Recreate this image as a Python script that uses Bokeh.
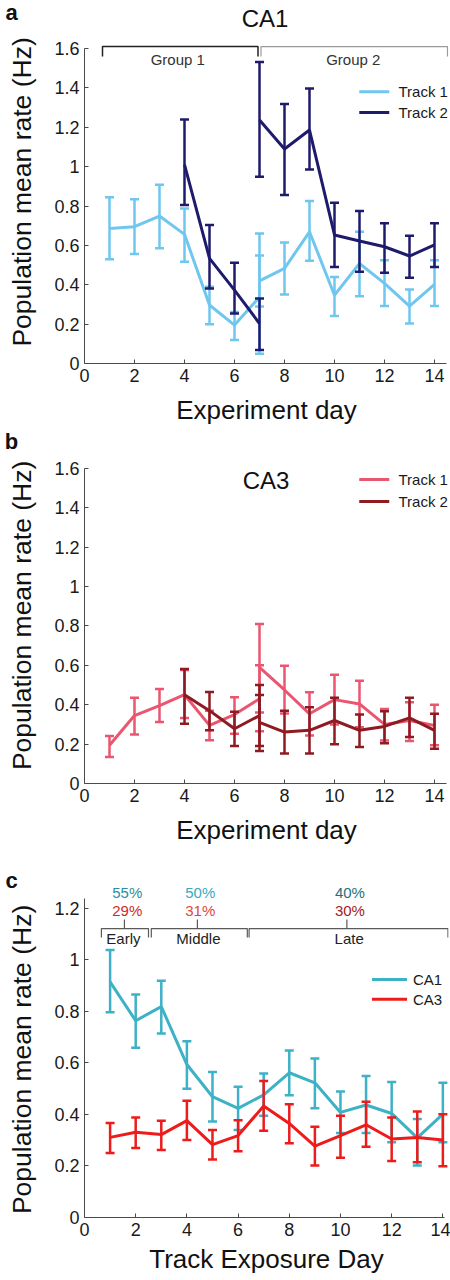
import math
from bokeh.plotting import figure
from bokeh.layouts import column, row
from bokeh.models import FixedTicker
from bokeh.core.properties import value
from bokeh.embed import file_html
from bokeh.resources import INLINE

FONT = "Liberation Sans"

# ---------------- data ----------------
x_ticks = [0, 2, 4, 6, 8, 10, 12, 14]
y_ticks_ab = [0, 0.2, 0.4, 0.6, 0.8, 1.0, 1.2, 1.4, 1.6]
y_labels_ab = ["0", "0.2", "0.4", "0.6", "0.8", "1", "1.2", "1.4", "1.6"]
y_ticks_c = [0, 0.2, 0.4, 0.6, 0.8, 1.0, 1.2]
y_labels_c = ["0", "0.2", "0.4", "0.6", "0.8", "1", "1.2"]

# Panel a (CA1)
a_t1_g1_day = [1, 2, 3, 4, 5, 6, 7]
a_t1_g1_mean = [0.686, 0.695, 0.749, 0.656, 0.297, 0.195, 0.337]
a_t1_g1_lo = [0.529, 0.556, 0.585, 0.517, 0.200, 0.120, 0.050]
a_t1_g1_hi = [0.844, 0.834, 0.908, 0.788, 0.390, 0.262, 0.660]
a_t1_g2_day = [7, 8, 9, 10, 11, 12, 13, 14]
a_t1_g2_mean = [0.420, 0.483, 0.669, 0.347, 0.508, 0.407, 0.292, 0.402]
a_t1_g2_lo = [0.290, 0.351, 0.522, 0.241, 0.342, 0.292, 0.203, 0.292]
a_t1_g2_hi = [0.548, 0.615, 0.825, 0.440, 0.669, 0.525, 0.376, 0.525]
a_t2_g1_day = [4, 5, 6, 7]
a_t2_g1_mean = [1.010, 0.534, 0.373, 0.203]
a_t2_g1_lo = [0.805, 0.381, 0.254, 0.068]
a_t2_g1_hi = [1.240, 0.703, 0.512, 0.330]
a_t2_g2_day = [7, 8, 9, 10, 11, 12, 13, 14]
a_t2_g2_mean = [1.237, 1.090, 1.186, 0.653, 0.622, 0.593, 0.546, 0.602]
a_t2_g2_lo = [0.949, 0.856, 0.986, 0.490, 0.466, 0.461, 0.436, 0.490]
a_t2_g2_hi = [1.532, 1.318, 1.397, 0.817, 0.775, 0.712, 0.649, 0.712]

# Panel b (CA3)
b_t1_g1_day = [1, 2, 3, 4, 5, 6, 7]
b_t1_g1_mean = [0.194, 0.345, 0.396, 0.451, 0.295, 0.350, 0.430]
b_t1_g1_lo = [0.135, 0.249, 0.312, 0.333, 0.220, 0.253, 0.265]
b_t1_g1_hi = [0.241, 0.435, 0.480, 0.576, 0.370, 0.438, 0.600]
b_t1_g2_day = [7, 8, 9, 10, 11, 12, 13, 14]
b_t1_g2_mean = [0.590, 0.475, 0.354, 0.426, 0.404, 0.300, 0.320, 0.295]
b_t1_g2_lo = [0.360, 0.355, 0.244, 0.300, 0.286, 0.219, 0.216, 0.194]
b_t1_g2_hi = [0.810, 0.598, 0.463, 0.552, 0.522, 0.379, 0.413, 0.400]
b_t2_g1_day = [4, 5, 6, 7]
b_t2_g1_mean = [0.451, 0.370, 0.278, 0.345]
b_t2_g1_lo = [0.303, 0.270, 0.190, 0.190]
b_t2_g1_hi = [0.581, 0.465, 0.365, 0.500]
b_t2_g2_day = [7, 8, 9, 10, 11, 12, 13, 14]
b_t2_g2_mean = [0.310, 0.261, 0.270, 0.320, 0.270, 0.290, 0.333, 0.270]
b_t2_g2_lo = [0.165, 0.152, 0.152, 0.199, 0.185, 0.205, 0.236, 0.177]
b_t2_g2_hi = [0.450, 0.370, 0.387, 0.435, 0.350, 0.367, 0.435, 0.354]

# Panel c (track exposure day)
c_day = [1, 2, 3, 4, 5, 6, 7, 8, 9, 10, 11, 12, 13, 14]
c_ca1_mean = [0.915, 0.764, 0.819, 0.594, 0.469, 0.424, 0.476, 0.562, 0.523, 0.408, 0.437, 0.404, 0.309, 0.401]
c_ca1_lo = [0.797, 0.659, 0.714, 0.500, 0.373, 0.340, 0.395, 0.475, 0.424, 0.328, 0.328, 0.292, 0.202, 0.292]
c_ca1_hi = [1.039, 0.866, 0.919, 0.684, 0.565, 0.508, 0.559, 0.648, 0.617, 0.489, 0.549, 0.526, 0.382, 0.523]
c_ca3_mean = [0.311, 0.331, 0.322, 0.376, 0.283, 0.318, 0.433, 0.365, 0.277, 0.318, 0.360, 0.305, 0.311, 0.301]
c_ca3_lo = [0.250, 0.270, 0.262, 0.301, 0.225, 0.257, 0.337, 0.288, 0.202, 0.232, 0.275, 0.219, 0.215, 0.199]
c_ca3_hi = [0.367, 0.388, 0.376, 0.453, 0.340, 0.378, 0.530, 0.440, 0.352, 0.395, 0.449, 0.388, 0.412, 0.401]

phase_names = ["Early", "Middle", "Late"]
phase_ca1_pct = ["55%", "50%", "40%"]
phase_ca3_pct = ["29%", "31%", "30%"]

# ---------------- styling ----------------
C_T1A = "#6fc6ee"
C_T2A = "#1f1b6c"
C_T1B = "#ea5670"
C_T2B = "#8e1a22"
C_CA1 = "#3db1c6"
C_CA3 = "#ee1b1b"
AX = "#4a4a4a"
LEFT_W = 40


def make_fig(h, ytop, bb, xend, xbound, xlabel, xstand, yticks, ylabels, ybound):
    p = figure(width=410, height=h, x_range=(0, xend), y_range=(0, ytop),
               output_backend="svg", toolbar_location=None,
               min_border_left=44, min_border_right=2, min_border_top=0,
               min_border_bottom=bb)
    p.outline_line_color = None
    p.grid.visible = False
    p.background_fill_color = "white"
    p.border_fill_color = "white"
    p.xaxis.ticker = FixedTicker(ticks=x_ticks)
    p.xaxis.bounds = xbound
    p.yaxis.ticker = FixedTicker(ticks=yticks)
    p.yaxis.bounds = ybound
    p.yaxis.major_label_overrides = dict(zip(yticks, ylabels))
    for ax in (p.xaxis[0], p.yaxis[0]):
        ax.axis_line_color = AX
        ax.axis_line_width = 1
        ax.major_tick_line_color = AX
        ax.major_tick_in = 4
        ax.major_tick_out = 0
        ax.minor_tick_line_color = None
        ax.major_label_text_font = FONT
        ax.major_label_text_font_size = "18px"
        ax.major_label_text_color = "#1a1a1a"
        ax.major_label_standoff = 5
    p.xaxis.axis_label = xlabel
    p.xaxis.axis_label_text_font = FONT
    p.xaxis.axis_label_text_font_size = "26px"
    p.xaxis.axis_label_text_font_style = "normal"
    p.xaxis.axis_label_text_color = "#111111"
    p.xaxis.axis_label_standoff = xstand
    return p


def side_fig(h, letter, letter_y, label_anchor):
    # narrow strip holding the panel letter and the rotated y-axis title
    s = figure(width=LEFT_W, height=h, x_range=(0, LEFT_W), y_range=(0, h),
               output_backend="svg", toolbar_location=None,
               x_axis_type=None, y_axis_type=None,
               min_border_left=0, min_border_right=0, min_border_top=0,
               min_border_bottom=0)
    s.outline_line_color = None
    s.grid.visible = False
    s.text(x=[11], y=[h - letter_y], text=[letter], text_font=value(FONT),
           text_font_size="22px", text_font_style="bold", text_align="center",
           text_baseline="middle", text_color="#111111")
    s.text(x=[21], y=[h - label_anchor], text=["Population mean rate (Hz)"],
           angle=math.pi / 2, text_font=value(FONT), text_font_size="26.5px",
           text_align="left", text_baseline="middle", text_color="#111111")
    return s


def errorbars(p, x, mean, lo, hi, color):
    p.segment(x0=x, y0=lo, x1=x, y1=hi, line_color=color, line_width=2.5)
    p.scatter(x=list(x) + list(x), y=list(lo) + list(hi), marker="dash",
              size=9, line_color=color, line_width=2.5)
    p.line(x, mean, line_color=color, line_width=3)


def txt(p, x, y, t, color="#222222", size="15px", align="center"):
    p.text(x=x, y=y, text=t, text_font=value(FONT), text_font_size=size,
           text_align=align, text_baseline="middle", text_color=color)


def legend(p, y1, y2, c1, c2, l1, l2, xa, xb, xt):
    p.segment(x0=[xa, xa], y0=[y1, y2], x1=[xb, xb], y1=[y1, y2],
              line_color=[c1, c2], line_width=3)
    txt(p, [xt, xt], [y1, y2], [l1, l2], color="#1a1a1a", align="left")


# ---------------- panel a ----------------
pa = make_fig(430, 1.844, 67, 14.56, (0, 14.48), "Experiment day", 10,
              y_ticks_ab, y_labels_ab, (0, 1.6))
errorbars(pa, a_t1_g1_day, a_t1_g1_mean, a_t1_g1_lo, a_t1_g1_hi, C_T1A)
errorbars(pa, a_t1_g2_day, a_t1_g2_mean, a_t1_g2_lo, a_t1_g2_hi, C_T1A)
errorbars(pa, a_t2_g1_day, a_t2_g1_mean, a_t2_g1_lo, a_t2_g1_hi, C_T2A)
errorbars(pa, a_t2_g2_day, a_t2_g2_mean, a_t2_g2_lo, a_t2_g2_hi, C_T2A)
pa.line([0.72, 0.72, 6.94, 6.94], [1.559, 1.61, 1.61, 1.559], line_color="#222222", line_width=1.5)
pa.line([7.06, 7.06, 14.52, 14.52], [1.559, 1.61, 1.61, 1.559], line_color="#9a9a9a", line_width=1.2)
txt(pa, [3.73, 10.75], [1.544, 1.544], ["Group 1", "Group 2"], color="#333333")
txt(pa, [7.22], [1.752], ["CA1"], color="#111111", size="24px")
legend(pa, 1.381, 1.275, C_T1A, C_T2A, "Track 1", "Track 2", 10.99, 12.19, 12.56)
sa = side_fig(430, "a", 14, 410)

# ---------------- panel b ----------------
pb = make_fig(420, 1.793, 67, 14.56, (0, 14.48), "Experiment day", 10,
              y_ticks_ab, y_labels_ab, (0, 1.6))
errorbars(pb, b_t1_g1_day, b_t1_g1_mean, b_t1_g1_lo, b_t1_g1_hi, C_T1B)
errorbars(pb, b_t1_g2_day, b_t1_g2_mean, b_t1_g2_lo, b_t1_g2_hi, C_T1B)
errorbars(pb, b_t2_g1_day, b_t2_g1_mean, b_t2_g1_lo, b_t2_g1_hi, C_T2B)
errorbars(pb, b_t2_g2_day, b_t2_g2_mean, b_t2_g2_lo, b_t2_g2_hi, C_T2B)
txt(pb, [7.26], [1.539], ["CA3"], color="#111111", size="24px")
legend(pb, 1.544, 1.432, C_T1B, C_T2B, "Track 1", "Track 2", 10.99, 12.19, 12.56)
sb = side_fig(420, "b", 13, 404)

# ---------------- panel c ----------------
pc = make_fig(428, 1.425, 61, 14.22, (0, 14.08), "Track Exposure Day", 5,
              y_ticks_c, y_labels_c, (0, 1.24))
errorbars(pc, c_day, c_ca1_mean, c_ca1_lo, c_ca1_hi, C_CA1)
errorbars(pc, c_day, c_ca3_mean, c_ca3_lo, c_ca3_hi, C_CA3)
br_x0 = [0.66, 2.61, 6.43]
br_x1 = [2.50, 6.36, 14.2]
br_mid = [1.56, 4.41, 10.25]
pc.multi_line(xs=[[a, a, b, b] for a, b in zip(br_x0, br_x1)],
              ys=[[1.087, 1.122, 1.122, 1.087]] * 3, line_color="#5a5a5a", line_width=1.2)
pc.multi_line(xs=[[m, m] for m in br_mid], ys=[[1.122, 1.157]] * 3,
              line_color="#5a5a5a", line_width=1.2)
txt(pc, [1.52, 4.45, 10.34], [1.083] * 3, phase_names, color="#222222")
pc.text(x=[1.67, 4.52, 10.37], y=[1.262] * 3, text=phase_ca1_pct,
        text_font=value(FONT), text_font_size="15px", text_align="center",
        text_baseline="middle", text_color=["#2c8ea2", "#3aa9bd", "#1f6f7d"])
pc.text(x=[1.67, 4.52, 10.37], y=[1.192] * 3, text=phase_ca3_pct,
        text_font=value(FONT), text_font_size="15px", text_align="center",
        text_baseline="middle", text_color=["#cf2a22", "#e0473a", "#a5201b"])
legend(pc, 0.924, 0.847, C_CA1, C_CA3, "CA1", "CA3", 11.23, 12.6, 12.83)
sc = side_fig(428, "c", 35, 424)

layout = column(row(sa, pa), row(sb, pb), row(sc, pc))
open("out.html", "w").write(file_html(layout, INLINE))
